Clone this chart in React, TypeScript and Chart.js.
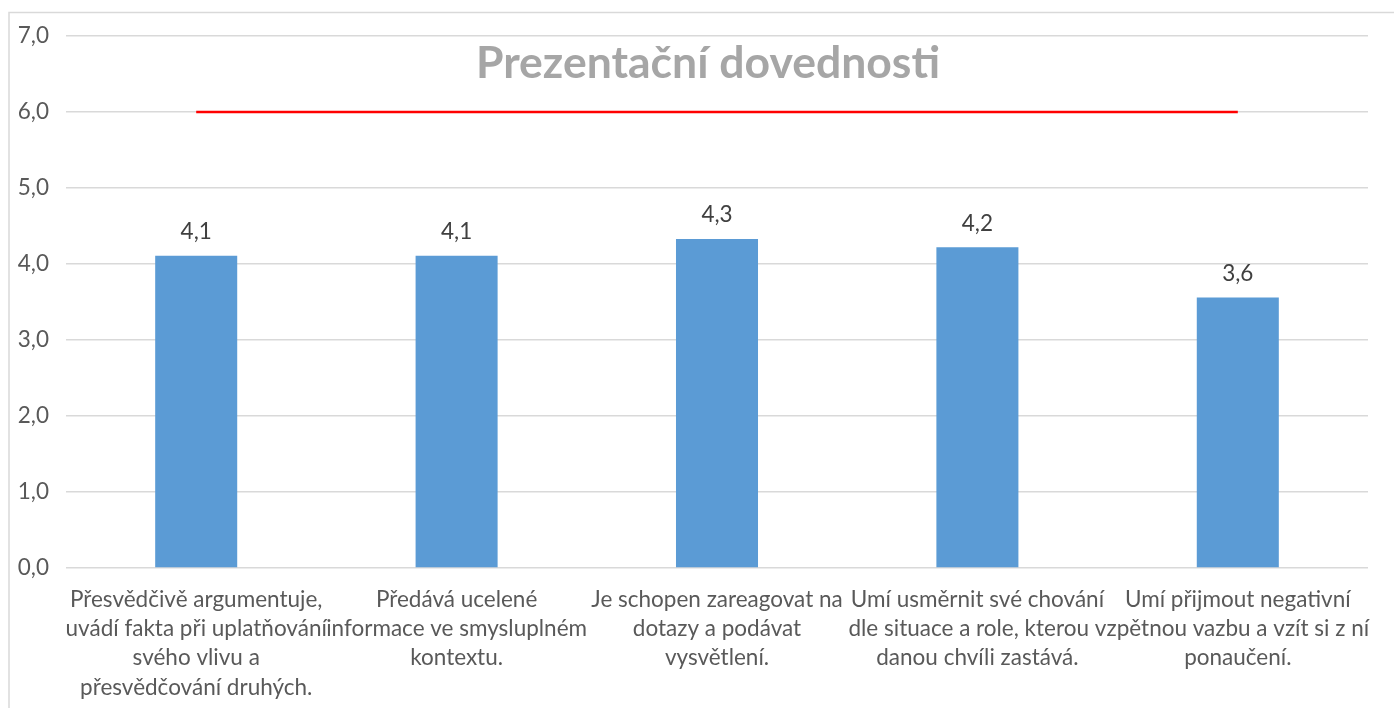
import React, { useEffect, useRef } from "react";
import { Chart, registerables } from "chart.js";

Chart.register(...registerables);

const categories: string[][] = [
  ["Přesvědčivě argumentuje,", "uvádí fakta při uplatňování", "svého vlivu a", "přesvědčování druhých."],
  ["Předává ucelené", "informace ve smysluplném", "kontextu."],
  ["Je schopen zareagovat na", "dotazy a podávat", "vysvětlení."],
  ["Umí usměrnit své chování", "dle situace a role, kterou v", "danou chvíli zastává."],
  ["Umí přijmout negativní", "zpětnou vazbu a vzít si z ní", "ponaučení."],
];
const scores: number[] = [4.11, 4.11, 4.33, 4.22, 3.56];
const target: number[] = [6, 6, 6, 6, 6];
const chartTitle = "Prezentační dovednosti";
const yMin = 0;
const yMax = 7;
const yStep = 1;

const FONT = "Lato, 'Open Sans', sans-serif";
const fmt = (v: number) => v.toFixed(1).replace(".", ",");

const decorPlugin = {
  id: "decor",
  beforeDraw(chart: any) {
    const ctx = chart.ctx;
    ctx.save();
    ctx.fillStyle = "#ffffff";
    ctx.fillRect(0, 0, chart.width, chart.height);
    ctx.strokeStyle = "#d9d9d9";
    ctx.lineWidth = 1.5;
    ctx.strokeRect(9, 12.5, chart.width + 100, chart.height + 100);
    ctx.restore();
  },
  afterDraw(chart: any) {
    const ctx = chart.ctx;
    ctx.save();
    // title
    ctx.font = `bold 44.5px ${FONT}`;
    ctx.fillStyle = "#a6a6a6";
    ctx.textAlign = "center";
    ctx.textBaseline = "middle";
    ctx.fillText(chartTitle, 708, 64);
    // data labels
    const meta = chart.getDatasetMeta(0);
    ctx.font = `22.5px ${FONT}`;
    ctx.fillStyle = "#404040";
    ctx.textBaseline = "middle";
    meta.data.forEach((el: any, i: number) => {
      ctx.fillText(fmt(scores[i]), el.x, el.y - 24);
    });
    ctx.restore();
  },
};

export default function App() {
  const ref = useRef<HTMLCanvasElement | null>(null);
  useEffect(() => {
    if (!ref.current) return;
    const chart = new Chart(ref.current, {
      type: "bar",
      data: {
        labels: categories,
        datasets: [
          {
            type: "bar",
            data: scores,
            backgroundColor: "#5b9bd5",
            barPercentage: 0.315,
            categoryPercentage: 1,
            order: 2,
          },
          {
            type: "line",
            data: target,
            borderColor: "#ff0000",
            borderWidth: 2.5,
            pointRadius: 0,
            fill: false,
            order: 1,
          } as any,
        ],
      },
      options: {
        responsive: false,
        animation: false,
        layout: { padding: { left: 9, right: 26, top: 36, bottom: 0 } },
        plugins: { legend: { display: false }, tooltip: { enabled: false }, title: { display: false } },
        scales: {
          x: {
            grid: { display: false },
            border: { display: false },
            ticks: {
              autoSkip: false,
              maxRotation: 0,
              minRotation: 0,
              padding: 9,
              color: "#595959",
              font: { family: FONT, size: 22.5, lineHeight: 1.3 },
            },
            afterFit(scale: any) {
              scale.height = 140;
            },
          },
          y: {
            min: yMin,
            max: yMax,
            grid: { color: "#d9d9d9", lineWidth: 1.5, drawTicks: false },
            border: { display: false },
            ticks: {
              stepSize: yStep,
              padding: 17,
              color: "#595959",
              font: { family: FONT, size: 22.5 },
              callback: (v: any) => fmt(Number(v)),
            },
            afterFit(scale: any) {
              scale.width = 57;
            },
          },
        },
      },
      plugins: [decorPlugin],
    });
    return () => chart.destroy();
  }, []);
  return (
    <canvas
      ref={ref}
      width={1394}
      height={708}
      style={{ position: "fixed", left: 0, top: 0, display: "block" }}
    />
  );
}
